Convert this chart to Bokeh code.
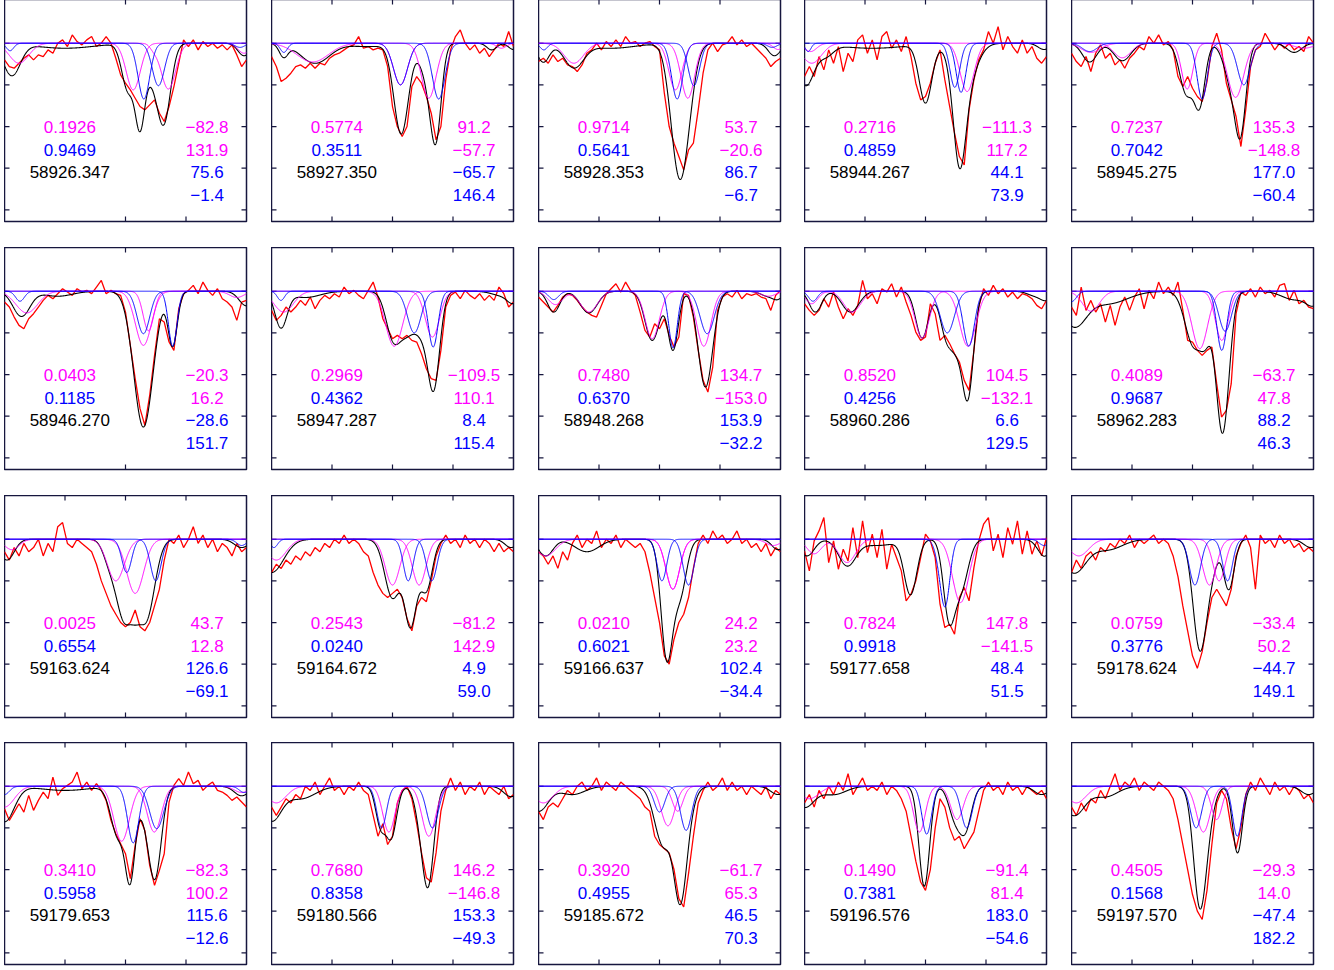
import numpy as np
from bokeh.plotting import figure
from bokeh.layouts import gridplot
from bokeh.models import Range1d
from bokeh.core.properties import value
from bokeh.embed import file_html
from bokeh.resources import INLINE

# ---------------- text values ----------------
DATES = [58926.347, 58927.350, 58928.353, 58944.267, 58945.275,
         58946.270, 58947.287, 58948.268, 58960.286, 58962.283,
         59163.624, 59164.672, 59166.637, 59177.658, 59178.624,
         59179.653, 59180.566, 59185.672, 59196.576, 59197.570]
PHASE_MAG = [0.1926, 0.5774, 0.9714, 0.2716, 0.7237, 0.0403, 0.2969, 0.7480, 0.8520, 0.4089,
             0.0025, 0.2543, 0.0210, 0.7824, 0.0759, 0.3410, 0.7680, 0.3920, 0.1490, 0.4505]
PHASE_BLU = [0.9469, 0.3511, 0.5641, 0.4859, 0.7042, 0.1185, 0.4362, 0.6370, 0.4256, 0.9687,
             0.6554, 0.0240, 0.6021, 0.9918, 0.3776, 0.5958, 0.8358, 0.4955, 0.7381, 0.1568]
VEL_MAG_A = [-82.8, 91.2, 53.7, -111.3, 135.3, -20.3, -109.5, 134.7, 104.5, -63.7,
             43.7, -81.2, 24.2, 147.8, -33.4, -82.3, 146.2, -61.7, -91.4, -29.3]
VEL_MAG_B = [131.9, -57.7, -20.6, 117.2, -148.8, 16.2, 110.1, -153.0, -132.1, 47.8,
             12.8, 142.9, 23.2, -141.5, 50.2, 100.2, -146.8, 65.3, 81.4, 14.0]
VEL_BLU_A = [75.6, -65.7, 86.7, 44.1, 177.0, -28.6, 8.4, 153.9, 6.6, 88.2,
             126.6, 4.9, 102.4, 48.4, -44.7, 115.6, 153.3, 46.5, 183.0, -47.4]
VEL_BLU_B = [-1.4, 146.4, -6.7, 73.9, -60.4, 151.7, 115.4, -32.2, 129.5, 46.3,
             -69.1, 59.0, -34.4, 51.5, 149.1, -12.6, -49.3, 70.3, -54.6, 182.2]

X_TICKS = [[50, 75]] + [[25, 50, 75]] * 4 + [[50]] + [[25, 50, 75]] * 14
Y_TICKS = [60, 70, 80, 90, 100]

# ---------------- observed spectra (relative flux, %) ----------------
RED_01 = [96.0, 94.4, 94.0, 95.2, 96.4, 97.2, 96.0, 97.2, 96.8, 98.4, 97.6, 100.0, 100.8, 99.2, 102.0, 100.4, 99.6, 100.8, 101.6, 99.2, 100.0, 101.6, 100.0, 96.4, 92.4, 90.4, 88.8, 86.8, 84.8, 84.0, 85.2, 86.4, 83.2, 81.2, 84.8, 89.6, 95.2, 100.8, 99.2, 100.8, 98.4, 100.4, 99.2, 100.0, 98.8, 99.6, 98.4, 99.6, 97.2, 94.4, 96.0]
RED_02 = [96.8, 94.4, 90.8, 91.6, 92.8, 94.4, 94.8, 94.0, 95.2, 94.0, 95.2, 94.8, 96.4, 97.2, 97.6, 98.4, 99.2, 99.6, 101.6, 98.8, 99.2, 98.4, 98.8, 98.4, 94.4, 84.8, 80.0, 77.6, 80.0, 89.6, 92.0, 90.4, 87.2, 83.2, 76.8, 80.0, 91.2, 98.4, 101.6, 103.2, 100.0, 98.4, 99.6, 97.6, 98.8, 96.8, 98.4, 100.0, 99.2, 102.8, 99.2]
RED_03 = [95.6, 96.4, 95.2, 97.2, 95.6, 96.4, 94.8, 94.4, 93.2, 94.8, 97.6, 98.4, 100.0, 98.4, 100.4, 99.2, 100.8, 99.2, 101.6, 100.0, 100.4, 99.2, 100.0, 100.4, 99.2, 98.4, 88.0, 80.0, 76.0, 72.8, 69.6, 74.4, 76.0, 84.0, 92.8, 98.4, 100.0, 98.0, 99.6, 100.0, 101.6, 99.6, 100.8, 99.2, 100.0, 98.8, 97.6, 96.4, 94.4, 95.6, 96.4]
RED_04 = [92.0, 94.4, 92.0, 96.8, 93.6, 98.4, 95.2, 99.2, 93.2, 97.6, 95.6, 100.8, 102.0, 97.6, 100.8, 96.0, 101.6, 102.8, 98.8, 100.8, 98.0, 101.6, 96.8, 90.4, 86.4, 87.2, 90.4, 95.2, 98.4, 91.2, 84.8, 78.4, 72.8, 70.8, 84.0, 91.2, 96.0, 98.4, 102.8, 100.0, 104.0, 98.4, 101.6, 99.2, 97.6, 100.8, 97.6, 99.2, 96.4, 95.2, 96.8]
RED_05 = [97.6, 95.6, 94.4, 96.8, 93.2, 97.6, 99.6, 96.4, 97.6, 94.8, 96.0, 94.0, 96.4, 97.6, 99.2, 98.4, 101.6, 100.0, 102.0, 99.6, 100.4, 98.4, 92.0, 89.6, 92.0, 89.2, 87.2, 86.0, 90.8, 99.2, 102.4, 98.4, 90.4, 86.4, 82.4, 75.2, 84.0, 94.4, 98.4, 99.2, 102.4, 100.4, 98.4, 100.0, 98.8, 100.0, 98.4, 99.2, 98.0, 101.6, 100.0]
RED_06 = [97.4, 96.2, 93.8, 91.8, 91.0, 93.4, 94.6, 96.2, 97.8, 99.0, 98.2, 99.4, 100.6, 99.8, 99.0, 100.6, 99.8, 100.2, 99.4, 101.0, 102.6, 99.4, 100.2, 99.4, 99.0, 95.0, 87.0, 79.0, 71.8, 67.8, 75.0, 84.6, 93.4, 92.6, 87.8, 85.8, 95.8, 99.4, 100.2, 101.4, 99.4, 102.2, 100.2, 99.0, 100.6, 98.2, 97.4, 96.2, 93.0, 97.4, 97.8]
RED_07 = [95.4, 93.0, 94.2, 96.2, 95.0, 96.2, 97.8, 96.6, 98.6, 95.8, 97.8, 99.0, 98.2, 99.4, 98.6, 101.0, 99.4, 100.2, 99.0, 98.2, 100.2, 102.2, 98.6, 93.4, 91.0, 88.6, 89.4, 88.6, 89.4, 88.2, 87.8, 85.0, 81.4, 79.0, 78.6, 85.8, 96.2, 99.0, 99.8, 98.2, 100.2, 99.0, 98.2, 99.4, 97.8, 99.0, 97.8, 101.0, 99.4, 96.2, 97.4]
RED_08 = [98.6, 97.4, 96.2, 95.0, 96.6, 98.6, 99.4, 99.0, 97.8, 96.2, 95.0, 94.2, 93.8, 96.6, 99.4, 100.6, 101.8, 99.8, 102.2, 100.2, 99.0, 95.0, 90.6, 89.0, 92.2, 91.0, 93.4, 89.4, 86.6, 89.0, 99.4, 99.0, 93.8, 85.8, 78.6, 75.8, 81.8, 95.4, 98.6, 99.4, 98.6, 100.2, 98.2, 99.4, 99.0, 99.4, 98.6, 98.2, 95.4, 99.0, 100.2]
RED_09 = [97.0, 95.4, 94.2, 95.4, 98.2, 96.2, 99.8, 96.2, 93.4, 95.8, 94.2, 96.6, 102.6, 98.2, 99.4, 97.0, 100.6, 99.8, 101.8, 98.6, 101.0, 97.4, 94.2, 90.2, 88.2, 89.0, 97.0, 94.6, 88.2, 89.4, 87.4, 85.0, 83.0, 78.6, 76.2, 85.8, 96.2, 100.6, 99.0, 101.4, 99.4, 100.6, 98.6, 99.8, 98.2, 99.4, 99.0, 98.2, 96.6, 95.8, 97.8]
RED_10 = [96.2, 94.2, 101.0, 95.4, 97.8, 95.0, 97.0, 92.6, 96.6, 91.8, 96.2, 98.6, 95.4, 98.6, 100.6, 95.8, 100.2, 98.2, 102.2, 99.4, 101.0, 99.0, 102.2, 95.4, 88.2, 87.8, 85.8, 84.6, 85.8, 86.6, 77.8, 69.8, 71.4, 77.8, 94.6, 99.8, 99.0, 100.6, 98.6, 101.0, 99.4, 100.2, 98.6, 101.4, 101.8, 97.8, 100.2, 97.0, 97.8, 96.2, 95.8]
RED_11 = [97, 95, 98, 96, 99, 97, 98, 100, 96, 99, 97, 103, 104, 99, 98, 100, 99, 98, 97, 94, 90, 87, 84, 82, 80, 79, 80, 83, 79, 78, 80, 84, 88, 95, 100, 99, 101, 98, 100, 103, 99, 101, 98, 100, 97, 99, 98, 96, 99, 97, 98]
RED_12 = [92, 94, 93, 95, 94, 96, 95, 97, 96, 98, 97, 99, 98, 100, 99, 101, 99, 100, 99, 97, 96, 92, 89, 87, 86, 87, 88, 86, 81, 78, 84, 86, 85, 90, 96, 99, 101, 99, 100, 98, 101, 99, 100, 98, 100, 99, 97, 99, 97, 98, 97]
RED_13 = [97, 96, 94, 96, 93, 97, 95, 99, 101, 98, 100, 99, 102, 98, 100, 99, 101, 98, 100, 99, 98, 99, 97, 92, 86, 80, 72, 70, 76, 80, 82, 86, 93, 99, 101, 99, 102, 100, 101, 99, 100, 102, 99, 100, 98, 99, 97, 99, 96, 98, 97]
RED_14 = [97.2, 92.4, 99.6, 102.0, 105.2, 94.4, 99.6, 92.8, 97.6, 94.8, 102.8, 95.6, 104.4, 96.8, 101.2, 95.6, 102.4, 92.8, 98.8, 95.6, 92.4, 85.2, 86.8, 90.0, 95.6, 101.2, 99.6, 95.6, 84.4, 78.8, 79.6, 77.2, 86.0, 88.4, 85.2, 93.2, 99.6, 103.6, 105.2, 97.2, 101.2, 95.6, 102.8, 98.8, 104.4, 96.4, 102.0, 96.4, 99.6, 96.0, 100.4]
RED_15 = [92, 95, 93, 96, 97, 95, 98, 97, 99, 98, 100, 99, 101, 98, 100, 99, 100, 101, 99, 100, 99, 96, 91, 84, 78, 72, 69, 73, 80, 86, 88, 86, 84, 88, 96, 99, 101, 98, 88, 101, 99, 100, 98, 101, 99, 100, 98, 99, 97, 98, 97]
RED_16 = [94.6, 91.8, 93.8, 95.8, 93.8, 97.8, 94.2, 96.6, 98.6, 97.0, 102.2, 97.8, 99.4, 100.2, 101.0, 103.4, 99.4, 101.0, 99.0, 100.6, 99.0, 96.6, 91.8, 88.6, 86.2, 83.8, 77.8, 85.8, 92.2, 89.4, 81.0, 76.2, 79.8, 83.8, 96.2, 100.2, 101.8, 100.2, 103.4, 100.6, 101.4, 99.0, 100.2, 101.0, 99.0, 98.6, 97.8, 96.6, 97.4, 96.2, 95.0]
RED_17 = [95, 93, 95, 97, 96, 98, 97, 100, 99, 101, 98, 100, 102, 99, 100, 98, 100, 99, 101, 99, 98, 93, 88, 91, 86, 88, 96, 99, 100, 97, 91, 84, 78, 77, 84, 94, 99, 102, 99, 101, 98, 100, 99, 101, 98, 100, 99, 98, 100, 97, 98]
RED_18 = [94, 92, 95, 96, 95, 97, 99, 98, 100, 101, 99, 100, 102, 99, 101, 100, 99, 101, 100, 99, 98, 97, 95, 94, 88, 86, 85, 84, 80, 73, 71, 79, 88, 96, 99, 101, 99, 100, 102, 99, 101, 99, 100, 98, 100, 99, 98, 100, 97, 99, 98]
RED_19 = [96, 98, 95, 99, 97, 100, 98, 101, 99, 103, 98, 100, 102, 99, 100, 99, 101, 98, 100, 99, 97, 94, 88, 82, 77, 75, 80, 90, 97, 95, 90, 87, 88, 85, 87, 89, 94, 99, 101, 99, 100, 98, 101, 99, 100, 98, 100, 99, 98, 99, 97]
RED_20 = [95, 93, 96, 94, 97, 96, 99, 97, 100, 103, 99, 101, 100, 102, 99, 101, 100, 99, 101, 100, 99, 97, 92, 86, 80, 74, 70, 68, 75, 86, 96, 99, 97, 90, 85, 90, 98, 101, 99, 102, 100, 98, 101, 99, 100, 98, 100, 99, 97, 98, 96]

# ---------------- fitted line lists: (centre, depth %, width) ----------------
BLK_01 = [(3, 7.6, 3.5), (25, 1.2, 12), (51, 11, 2.5), (56, 18.5, 2), (60.5, 6, 2.5), (65.8, 19, 2.8), (99, 3, 2.5)]
MAG_A_01 = [(6, 4.8, 4), (53.2, 11.2, 2.9)]
MAG_B_01 = [(67.7, 11, 3), (61.5, 1, 1.5), (99, 2.4, 2.5)]
BLU_A_01 = [(2.3, 1.8, 1.5), (57.6, 13.4, 2.4)]
BLU_B_01 = [(63.6, 10.2, 2.5), (97.3, 1, 2)]

BLK_02 = [(5, 3, 1.8), (18, 4.8, 6), (40, 0.8, 8), (53.6, 21.6, 3.0), (64.5, 8, 3), (68, 20, 2.2), (91, 1.6, 2), (100, 1.5, 2)]
MAG_A_02 = [(17, 4.5, 6.5), (65, 13.2, 3), (95, 1.2, 2)]
MAG_B_02 = [(53.3, 10, 2.9)]
BLU_A_02 = [(5.1, 2.2, 1.5), (53.3, 10, 2.9)]
BLU_B_02 = [(69.1, 13.4, 2.6)]

BLK_03 = [(2, 4.5, 2.5), (14.6, 5.6, 4), (30, 1.2, 10), (57.5, 24, 3.3), (61, 13, 3.3), (97.5, 3, 2.5)]
MAG_A_03 = [(14.6, 4.8, 4), (56.6, 11.2, 2.7)]
MAG_B_03 = [(61.7, 13.2, 2.8), (99, 1.5, 2)]
BLU_A_03 = [(2.2, 1.6, 1.5), (57.3, 13.4, 2.3)]
BLU_B_03 = [(64.2, 10.2, 2.3), (96.6, 1, 2)]

BLK_04 = [(0.5, 10, 3.5), (9, 2.5, 3), (28, 1.2, 14), (50, 14, 2.6), (64, 20, 2.5), (66, 11, 4.5), (99, 1.5, 2.5)]
MAG_A_04 = [(3, 4.8, 4), (67.2, 11.6, 2.9)]
MAG_B_04 = [(2.5, 2, 2.5)]
BLU_A_04 = [(1.5, 2, 1.2), (62.1, 10.6, 2.0)]
BLU_B_04 = [(64.7, 11.8, 2.0)]

BLK_05 = [(7.5, 4.5, 3), (21, 4.2, 3.5), (47.5, 12, 2.8), (53, 14, 2.2), (66.5, 10, 3.2), (70, 17, 2.2), (92, 2.2, 3)]
MAG_A_05 = [(8, 2.2, 4), (47.8, 11, 2.3)]
MAG_B_05 = [(21, 3.5, 3.5), (67.8, 13, 3.3), (96, 1.2, 4)]
BLU_A_05 = [(7.5, 2, 3), (54, 13.4, 2.1)]
BLU_B_05 = [(71.2, 10, 2.6)]

BLK_06 = [(7, 6, 3.5), (22, 1.2, 6), (57.4, 32.6, 4.0), (69.5, 13, 1.9), (100, 3.5, 3)]
MAG_A_06 = [(9.2, 5.2, 4.5), (57.4, 13, 3.3)]
MAG_B_06 = [(59.5, 9.5, 2.2), (96, 1.5, 3)]
BLU_A_06 = [(6.4, 2.4, 1.8), (57.4, 10.2, 2.6)]
BLU_B_06 = [(69.5, 13.2, 1.75)]

BLK_07 = [(3.9, 8.5, 2.5), (14, 1.5, 6), (50.3, 11, 3), (56.5, 9, 3.2), (62, 7, 2.5), (67, 23, 2.5), (95, 1, 4), (100, 2.5, 2.5)]
MAG_A_07 = [(5, 5, 4), (50.7, 13.2, 3.5)]
MAG_B_07 = [(66.5, 11, 2.9)]
BLU_A_07 = [(3.9, 2.2, 1.5), (59, 10, 2.8)]
BLU_B_07 = [(66.8, 13.4, 2.0)]

BLK_08 = [(6.3, 5, 2.5), (20.8, 5.2, 3.5), (47, 11.8, 3.0), (55.6, 14, 2.1), (69, 23, 3.0), (95, 1.2, 3), (99, 1.5, 2)]
MAG_A_08 = [(7, 3.2, 3), (20.8, 5, 3.5), (47, 11.4, 2.9)]
MAG_B_08 = [(68.3, 13.2, 2.9), (95, 1.2, 3)]
BLU_A_08 = [(6.3, 2, 2), (55.6, 13.6, 1.75)]
BLU_B_08 = [(69.7, 10.2, 2.9)]

BLK_09 = [(4.5, 5, 2.5), (19, 5, 3.5), (48.6, 11.2, 2.6), (58.5, 10, 2.5), (63, 11, 2.5), (67.6, 24, 2.3), (95, 1, 3), (100, 2, 2.5)]
MAG_A_09 = [(3, 3, 2.5), (19.7, 5, 3.5), (48.6, 11.2, 2.9)]
MAG_B_09 = [(67.5, 13.2, 3.3)]
BLU_A_09 = [(3.5, 2.4, 1.8), (59, 10, 2.9)]
BLU_B_09 = [(67.9, 13.2, 2.3)]

BLK_10 = [(1, 8, 5), (15, 3, 8), (50.5, 13, 3.5), (55.5, 8, 2.2), (62.4, 34, 2.7), (92, 2, 5), (100, 3, 3)]
MAG_A_10 = [(8, 4.8, 3.5), (53, 13.8, 3.2)]
MAG_B_10 = [(62.1, 11.8, 2.6)]
BLU_A_10 = [(0, 2.5, 2), (62.1, 14.2, 2.0)]
BLU_B_10 = [(63.5, 9.6, 2.6)]

BLK_11 = [(1, 5, 3), (43, 4, 2.5), (49.5, 19, 3.5), (54, 4, 2), (58.5, 19, 3.5), (98, 2, 3)]
MAG_A_11 = [(3, 2.5, 3), (46, 10, 3.5)]
MAG_B_11 = [(54, 13, 3.5)]
BLU_A_11 = [(50.5, 8, 2.0)]
BLU_B_11 = [(62.5, 10, 2.2), (98, 1.5, 2)]

BLK_12 = [(0, 8, 5), (50, 14, 3.2), (57.5, 20, 2.5), (64, 12, 2.5), (99, 2, 2.5)]
MAG_A_12 = [(2, 5, 4), (50, 11, 3)]
MAG_B_12 = [(61, 11, 2.8)]
BLU_A_12 = [(1, 2, 1.5), (56.5, 10, 2.0)]
BLU_B_12 = [(66.2, 10, 2.2)]

BLK_13 = [(3, 4, 3), (20, 3, 5), (53, 28, 2.4), (58.5, 13, 2.6), (99, 2.5, 2.5)]
MAG_A_13 = [(3, 4, 4), (55.5, 12, 2.8)]
MAG_B_13 = [(55.5, 12, 2.8), (97, 1.5, 3)]
BLU_A_13 = [(51, 10, 2.0)]
BLU_B_13 = [(62, 11, 2.2)]

BLK_14 = [(1, 4, 3), (17.6, 6, 3.5), (30, 1.5, 8), (43.8, 13, 2.6), (59.6, 17, 2.3), (64.5, 12, 3), (98, 2.5, 2.5), (100, 2, 2)]
MAG_A_14 = [(4, 3.5, 3), (17.6, 5.6, 3.5)]
MAG_B_14 = [(64.5, 15.2, 3.3)]
BLU_A_14 = [(56, 4, 2), (58.3, 14, 1.9)]
BLU_B_14 = [(99, 1.5, 2)]

BLK_15 = [(1, 8, 5), (15, 2.5, 6), (53, 26, 2.8), (58, 6, 2.5), (65, 12, 2.2), (99, 2, 3)]
MAG_A_15 = [(3, 4, 4), (57, 11, 2.8)]
MAG_B_15 = [(61, 10, 2.5)]
BLU_A_15 = [(51, 11, 2.3)]
BLU_B_15 = [(64.5, 10, 2.0)]

BLK_16 = [(0, 8.5, 4), (25, 1, 10), (47, 12, 3), (52, 20, 2), (57.5, 5, 2.5), (62.2, 21.5, 2.6), (98, 2.3, 3)]
MAG_A_16 = [(0, 5, 4), (48.4, 13.2, 3.2)]
MAG_B_16 = [(61.9, 11, 2.9), (98, 1.5, 3)]
BLU_A_16 = [(0, 2, 2), (53.2, 13.6, 2.3)]
BLU_B_16 = [(62.9, 10.2, 2.9), (99, 1.5, 2)]

BLK_17 = [(0, 8, 4), (12, 3, 6), (45, 9, 2), (49.5, 12, 2.2), (62, 8, 2.5), (65, 20, 2.3), (99, 2.5, 3)]
MAG_A_17 = [(2, 4, 4), (48.5, 11, 2.5)]
MAG_B_17 = [(65, 12, 2.8)]
BLU_A_17 = [(45.5, 10, 2.0)]
BLU_B_17 = [(66.5, 10, 2.4)]

BLK_18 = [(0, 6, 4), (14, 2, 5), (51.5, 14, 3.5), (58.5, 23.5, 2.6), (61.5, 5, 3), (99, 2, 3)]
MAG_A_18 = [(2, 4, 4), (53.5, 9.5, 2.8)]
MAG_B_18 = [(57.5, 6, 2.2)]
BLU_A_18 = [(50, 6.2, 2.2)]
BLU_B_18 = [(61, 10.6, 2.3)]

BLK_19 = [(0, 5, 4), (12, 2, 5), (49.5, 24, 2.2), (62, 7, 2.5), (66.5, 10, 2.5), (98, 2, 3)]
MAG_A_19 = [(2, 3, 4), (47.5, 11, 2.4)]
MAG_B_19 = [(63, 8, 2.6)]
BLU_A_19 = [(50.5, 11.5, 2.0)]
BLU_B_19 = [(67, 10, 2.3)]

BLK_20 = [(1, 7, 4.5), (14, 2.5, 5), (53, 28, 2.6), (57, 5, 2.5), (68.6, 16, 2.0), (98, 2, 3)]
MAG_A_20 = [(2, 4, 4), (54.5, 11, 2.8)]
MAG_B_20 = [(60, 8, 2.2)]
BLU_A_20 = [(51.5, 10, 2.3)]
BLU_B_20 = [(68.5, 12, 1.9)]

RED = [RED_01, RED_02, RED_03, RED_04, RED_05, RED_06, RED_07, RED_08, RED_09, RED_10,
       RED_11, RED_12, RED_13, RED_14, RED_15, RED_16, RED_17, RED_18, RED_19, RED_20]
BLK = [BLK_01, BLK_02, BLK_03, BLK_04, BLK_05, BLK_06, BLK_07, BLK_08, BLK_09, BLK_10,
       BLK_11, BLK_12, BLK_13, BLK_14, BLK_15, BLK_16, BLK_17, BLK_18, BLK_19, BLK_20]
MAG_A = [MAG_A_01, MAG_A_02, MAG_A_03, MAG_A_04, MAG_A_05, MAG_A_06, MAG_A_07, MAG_A_08, MAG_A_09, MAG_A_10,
         MAG_A_11, MAG_A_12, MAG_A_13, MAG_A_14, MAG_A_15, MAG_A_16, MAG_A_17, MAG_A_18, MAG_A_19, MAG_A_20]
MAG_B = [MAG_B_01, MAG_B_02, MAG_B_03, MAG_B_04, MAG_B_05, MAG_B_06, MAG_B_07, MAG_B_08, MAG_B_09, MAG_B_10,
         MAG_B_11, MAG_B_12, MAG_B_13, MAG_B_14, MAG_B_15, MAG_B_16, MAG_B_17, MAG_B_18, MAG_B_19, MAG_B_20]
BLU_A = [BLU_A_01, BLU_A_02, BLU_A_03, BLU_A_04, BLU_A_05, BLU_A_06, BLU_A_07, BLU_A_08, BLU_A_09, BLU_A_10,
         BLU_A_11, BLU_A_12, BLU_A_13, BLU_A_14, BLU_A_15, BLU_A_16, BLU_A_17, BLU_A_18, BLU_A_19, BLU_A_20]
BLU_B = [BLU_B_01, BLU_B_02, BLU_B_03, BLU_B_04, BLU_B_05, BLU_B_06, BLU_B_07, BLU_B_08, BLU_B_09, BLU_B_10,
         BLU_B_11, BLU_B_12, BLU_B_13, BLU_B_14, BLU_B_15, BLU_B_16, BLU_B_17, BLU_B_18, BLU_B_19, BLU_B_20]

# ---------------- drawing ----------------
FRAME = "#16163e"
MAGC = "#ff00ff"
BLUC = "#0000ff"
REDC = "#ff0000"
FONT = value("Liberation Sans")
XS = np.linspace(0, 100, 1201)
XR = (0.0, 100.0)
YR = (57.2, 110.5)
FW, FH = 242, 222
COL_W = [267, 267, 266, 267, 244]
ROW_H = [248, 248, 247, 224]
TICK_PX = 5


def model(lines):
    f = np.full(XS.shape, 100.0)
    for c, d, s in lines:
        f -= d * np.exp(-0.5 * ((XS - c) / s) ** 2)
    return f


def vel(v):
    return f"{v:.1f}".replace("-", "\u2212")


def panel(i, r, c):
    p = figure(frame_width=FW, frame_height=FH,
               x_range=Range1d(*XR), y_range=Range1d(*YR),
               output_backend="svg", toolbar_location=None,
               x_axis_location=None, y_axis_location=None,
               min_border_left=0, min_border_top=0,
               min_border_right=COL_W[c] - FW, min_border_bottom=ROW_H[r] - FH,
               outline_line_color=FRAME, outline_line_width=1.5,
               background_fill_color="white", border_fill_color="white")
    p.grid.visible = False

    # inward ticks on all four sides, from the tick lists
    dx = TICK_PX * (XR[1] - XR[0]) / FW
    dy = TICK_PX * (YR[1] - YR[0]) / FH
    xt = X_TICKS[i]
    p.segment(x0=xt, y0=[YR[0]] * len(xt), x1=xt, y1=[YR[0] + dy] * len(xt),
              line_color=FRAME, line_width=1.2)
    p.segment(x0=xt, y0=[YR[1]] * len(xt), x1=xt, y1=[YR[1] - dy] * len(xt),
              line_color=FRAME, line_width=1.2)
    p.segment(x0=[XR[0]] * len(Y_TICKS), y0=Y_TICKS, x1=[XR[0] + dx] * len(Y_TICKS), y1=Y_TICKS,
              line_color=FRAME, line_width=1.2)
    p.segment(x0=[XR[1]] * len(Y_TICKS), y0=Y_TICKS, x1=[XR[1] - dx] * len(Y_TICKS), y1=Y_TICKS,
              line_color=FRAME, line_width=1.2)

    p.line(np.linspace(0, 100, len(RED[i])), RED[i], line_color=REDC, line_width=1.3)
    p.line(XS, model(BLK[i]), line_color="black", line_width=1.1)
    p.line(XS, model(MAG_A[i]), line_color=MAGC, line_width=1.0)
    p.line(XS, model(MAG_B[i]), line_color=MAGC, line_width=1.0)
    p.line(XS, model(BLU_A[i]), line_color=BLUC, line_width=1.0)
    p.line(XS, model(BLU_B[i]), line_color=BLUC, line_width=1.0)

    p.text(x=[27, 27, 27], y=[79.8, 74.4, 69.0],
           text=[f"{PHASE_MAG[i]:.4f}", f"{PHASE_BLU[i]:.4f}", f"{DATES[i]:.3f}"],
           text_color=[MAGC, BLUC, "black"], text_align="center", text_baseline="middle",
           text_font=FONT, text_font_size="17px")
    p.text(x=[83.7] * 4, y=[79.8, 74.4, 69.0, 63.6],
           text=[vel(VEL_MAG_A[i]), vel(VEL_MAG_B[i]), vel(VEL_BLU_A[i]), vel(VEL_BLU_B[i])],
           text_color=[MAGC, MAGC, BLUC, BLUC], text_align="center", text_baseline="middle",
           text_font=FONT, text_font_size="17px")
    return p


rows = []
for r in range(4):
    rows.append([panel(r * 5 + c, r, c) for c in range(5)])

grid = gridplot(rows, toolbar_location=None)
grid.margin = (-1, 0, 0, 4)

open("out.html", "w").write(file_html(grid, INLINE))
